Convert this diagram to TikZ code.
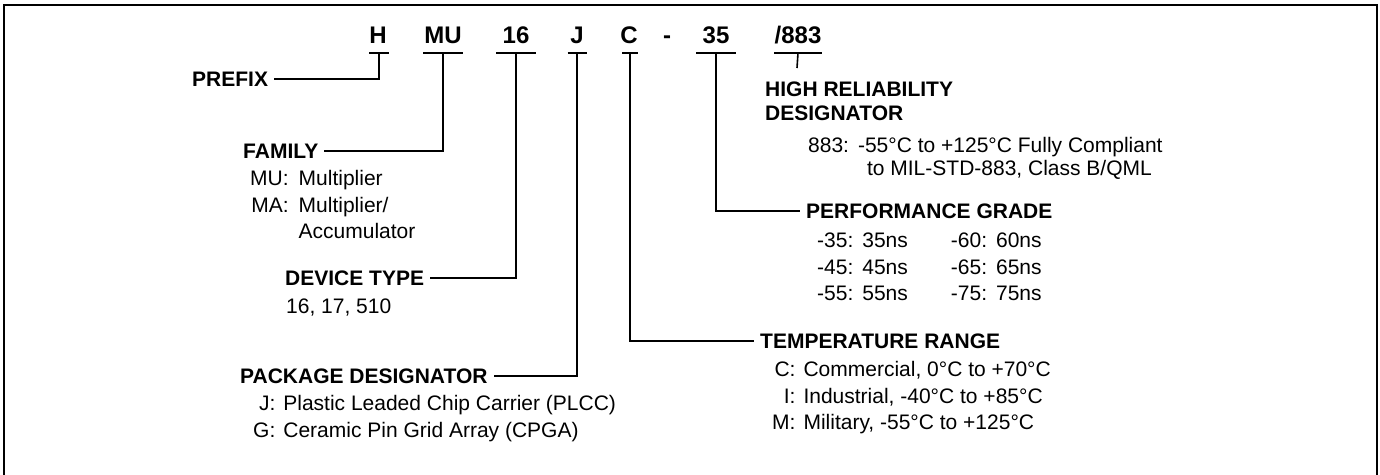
\documentclass[tikz,border=0pt]{standalone}
\usepackage{fontspec}
\setmainfont{Liberation Sans}
\usetikzlibrary{calc}

\tikzset{
  code/.style={font=\fontsize{24}{24}\selectfont\bfseries, inner sep=0pt, anchor=base},
  head/.style={font=\fontsize{21}{24}\selectfont\bfseries, inner xsep=6pt, inner ysep=0pt, anchor=west},
  desc/.style={font=\fontsize{21}{26.7}\selectfont, inner sep=0pt, anchor=base west},
  lead/.style={line width=1.6pt},
}

\begin{document}
\begin{tikzpicture}[x=1pt,y=-1pt]
        \useasboundingbox (0,0) rectangle (1380,474);
        \draw [line width=2pt] (4,480) -- (4,5) -- (1377,5) -- (1377,480);

        % part number
        \node[code] (h) at (378,43) {H};
        \node[code] (mu) at (443,43) {MU};
        \node[code] (n16) at (516,43) {16};
        \node[code] (j) at (577,43) {J};
        \node[code] (c) at (629,43) {C};
        \node[code] (dash) at (667,43) {-};
        \node[code] (n35) at (716,43) {35};
        \node[code] (s883) at (798,43) {/883};

        % underlines
        \foreach \n/\x/\w in {h/379/10, mu/443/20, n16/516/20, j/577/9.5, c/630/8, n35/716/20, s883/798/24} {
            \coordinate (\n-u) at (\x,53);
            \draw [lead] ([xshift=-\w]\n-u) -- ([xshift=\w]\n-u);
        }
        \coordinate (s883-end) at (797,68);

        % left side
        \node[head] (prefix) at (186,79) {PREFIX};
        \node[head] (family) at (237,151) {FAMILY};
        \node[desc] (famtxt) at (250,185.5) {\begin{tabular}[t]{@{}r@{\hspace{10pt}}l@{}}
            MU: & Multiplier\\ MA: & Multiplier/\\ & Accumulator\end{tabular}};
        \node[head] (devtype) at (279,278) {DEVICE TYPE};
        \node[desc] (devtxt) at (286,313.5) {16, 17, 510};
        \node[head] (package) at (234,376) {PACKAGE DESIGNATOR};
        \node[desc] (pkgtxt) at (253,410.5) {\begin{tabular}[t]{@{}r@{\hspace{8pt}}l@{}}
            J: & Plastic Leaded Chip Carrier (PLCC)\\ G: & Ceramic Pin Grid Array (CPGA)\end{tabular}};

        % right side
        \node[head, anchor=base west] (hirel) at (759,96.5) {\begin{tabular}[t]{@{}l@{}}
            HIGH RELIABILITY\\ DESIGNATOR\end{tabular}};
        \node[desc, font=\fontsize{21}{23}\selectfont] (hrtxt) at (808,152.5) {\begin{tabular}[t]{@{}l@{\hspace{9pt}}l@{}}
            883: & -55°C to +125°C Fully Compliant\\ & \hspace{9pt}to MIL-STD-883, Class B/QML\end{tabular}};
        \node[head] (perf) at (800,211) {PERFORMANCE GRADE};
        \node[desc] (perftxt) at (817,247.5) {\begin{tabular}[t]{@{}l@{\hspace{9pt}}l@{\hspace{43pt}}l@{\hspace{9pt}}l@{}}
            -35: & 35ns & -60: & 60ns\\ -45: & 45ns & -65: & 65ns\\ -55: & 55ns & -75: & 75ns\end{tabular}};
        \node[head] (temp) at (754,341) {TEMPERATURE RANGE};
        \node[desc] (temptxt) at (772,376.5) {\begin{tabular}[t]{@{}r@{\hspace{8pt}}l@{}}
            C: & Commercial, 0°C to +70°C\\ I: & Industrial, -40°C to +85°C\\ M: & Military, -55°C to +125°C\end{tabular}};

        % leaders
        \draw [lead] (h-u) |- (prefix.east);
        \draw [lead] (mu-u) |- (family.east);
        \draw [lead] (n16-u) |- (devtype.east);
        \draw [lead] (j-u) |- (package.east);
        \draw [lead] (c-u) |- (temp.west);
        \draw [lead] (n35-u) |- (perf.west);
        \draw [lead] (s883-u) -- (s883-end);
    \end{tikzpicture}
\end{document}
